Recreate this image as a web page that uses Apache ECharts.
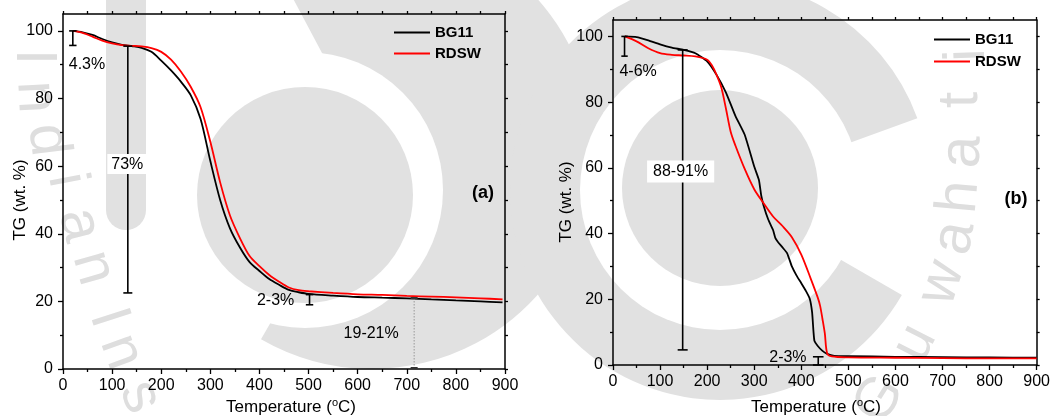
<!DOCTYPE html>
<html>
<head>
<meta charset="utf-8">
<script src="https://cdn.jsdelivr.net/npm/echarts@6/dist/echarts.min.js"></script>
<style>
  html, body { margin: 0; padding: 0; background: #fff; }
  #chart { width: 1053px; height: 416px; }
</style>
</head>
<body>
<div id="chart"></div>
<script>
// ---- tick values ----
const tempMax = 900;
const tgMajor = [0, 20, 40, 60, 80, 100];
const tgMinor = [10, 30, 50, 70, 90];
const tgFrame = [0, 10, 20, 30, 40, 50, 60, 70, 80, 90, 100];

// ---- (a) TG curves ----
const tempA = [20, 40, 60, 80, 100, 120, 140, 160, 180, 200, 220, 240, 260, 280, 300, 320, 340, 360, 380, 400, 420, 440, 460, 480, 500, 550, 600, 650, 700, 750, 800, 850, 895];
const bg11A = [100, 99.6, 98.8, 97.6, 96.6, 95.9, 95.5, 95.0, 93.8, 91.2, 88.3, 85.0, 81.0, 74.0, 61.5, 50.0, 41.6, 36.0, 31.6, 29.0, 26.6, 24.9, 23.4, 22.7, 22.2, 21.7, 21.3, 21.1, 20.9, 20.6, 20.3, 20.0, 19.7];
const rdswA = [100, 99.4, 98.3, 97.1, 96.3, 95.8, 95.6, 95.4, 94.9, 93.8, 91.5, 88.0, 83.5, 77.5, 67.2, 55.2, 45.4, 38.8, 33.4, 30.4, 27.8, 25.8, 24.1, 23.3, 23.0, 22.5, 22.1, 21.9, 21.6, 21.4, 21.2, 20.9, 20.6];

// ---- (b) TG curves ----
const tempB_bg11 = [25, 50, 75, 100, 125, 150, 175, 200, 220, 240, 260, 280, 300, 310, 315, 320, 330, 340, 345, 350, 360, 370, 380, 390, 400, 410, 418, 423, 426, 428, 435, 445, 455, 470, 500, 600, 700, 800, 900];
const bg11B = [100, 99.8, 98.8, 97.6, 96.6, 95.9, 94.9, 92.4, 88.3, 82.9, 75.8, 70.0, 60.4, 56.3, 51.5, 48.5, 44.2, 41.1, 38.6, 37.5, 35.8, 34.0, 30.0, 27.2, 24.9, 22.5, 20.2, 16.0, 10.0, 7.3, 5.8, 4.3, 3.4, 2.8, 2.7, 2.5, 2.4, 2.3, 2.2];
const tempB_rdsw = [25, 50, 75, 100, 125, 150, 175, 200, 210, 220, 230, 240, 250, 260, 280, 300, 320, 340, 360, 380, 400, 420, 435, 440, 445, 450, 455, 465, 500, 600, 700, 800, 900];
const rdswB = [100, 98.5, 96.4, 94.9, 94.4, 94.2, 93.9, 92.9, 91.2, 88.3, 84.5, 78.0, 71.0, 66.8, 59.6, 53.5, 49.2, 45.2, 42.3, 38.9, 33.6, 26.3, 20.5, 18.0, 14.0, 9.6, 3.5, 2.6, 2.3, 2.2, 2.1, 2.0, 2.0];

// ---- mass-loss annotations: [temperature, upper TG, lower TG] ----
const rangesA = [[20, 100, 95.7], [132, 95.5, 22.5], [502, 22, 19]];
const residueA = [[715, 21, 0]];
const rangesB = [[24.5, 100, 94], [148, 95.9, 4.6], [436, 2.5, 0]];

// ---- annotation labels: [temperature, TG, text] ----
const notesA = [[48.8, 90, '4.3%'], [131, 60.6, '73%'], [433, 20.2, '2-3%'], [627.5, 10.6, '19-21%']];
const notesB = [[53.4, 89.2, '4-6%'], [143.7, 58.9, '88-91%'], [371.6, 2.35, '2-3%']];

const seriesNames = ['BG11', 'RDSW'];

// ---------------------------------------------------------------
const FF = '"Liberation Sans", Arial, sans-serif';
const deg = Math.PI / 180;
const zip = (xs, ys) => xs.map((x, i) => [x, ys[i]]);
const boxPad = { '73%': [2, 4, 2, 4], '88-91%': [3, 6, 3, 6] };
const frameLine = { show: true, onZero: false, lineStyle: { color: '#000', width: 1.5 } };
const tickStyle = { color: '#000', width: 1.3 };

const grids = [
  { left: 63, top: 14, width: 442, height: 355 },
  { left: 613, top: 20, width: 425, height: 345 }
];

const xAxes = [], yAxes = [];
grids.forEach((g, gi) => {
  xAxes.push({
    gridIndex: gi, type: 'value', position: 'bottom', min: 0, max: tempMax, interval: 100,
    axisLine: frameLine,
    axisTick: { show: true, length: 5, lineStyle: tickStyle },
    minorTick: { show: true, splitNumber: 2, length: 3, lineStyle: tickStyle },
    axisLabel: { fontFamily: FF, fontSize: 16, color: '#000', margin: 9 },
    splitLine: { show: false }
  });
  xAxes.push({
    gridIndex: gi, type: 'value', position: 'top', min: 0, max: tempMax, interval: 50,
    axisLine: frameLine,
    axisTick: { show: true, length: 3, lineStyle: tickStyle },
    axisLabel: { show: false }, splitLine: { show: false }
  });
  yAxes.push({
    gridIndex: gi, type: 'value', position: 'left', min: 0, max: 105, interval: 20,
    axisLine: frameLine,
    axisTick: { show: true, length: 5, lineStyle: tickStyle, customValues: tgMajor },
    axisLabel: { fontFamily: FF, fontSize: 16, color: '#000', margin: 10, customValues: tgMajor },
    splitLine: { show: false }
  });
  yAxes.push({
    gridIndex: gi, type: 'value', position: 'left', min: 0, max: 105, interval: 10,
    axisLine: { show: false },
    axisTick: { show: true, length: 3, lineStyle: tickStyle, customValues: tgMinor },
    axisLabel: { show: false }, splitLine: { show: false }
  });
  yAxes.push({
    gridIndex: gi, type: 'value', position: 'right', min: 0, max: 105, interval: 10,
    axisLine: frameLine,
    axisTick: { show: true, length: 3, lineStyle: tickStyle, customValues: tgFrame },
    axisLabel: { show: false }, splitLine: { show: false }
  });
});

function curve(gi, name, color, data, smooth) {
  return {
    type: 'line', name, xAxisIndex: 2 * gi, yAxisIndex: 3 * gi, data,
    symbol: 'none', smooth, z: 3,
    lineStyle: { color, width: 1.8 }, itemStyle: { color }
  };
}

function rangeBars(gi, bars, caps) {
  return {
    type: 'custom', xAxisIndex: 2 * gi, yAxisIndex: 3 * gi, data: bars, silent: true, z: 4,
    renderItem(params, api) {
      const x = api.value(0);
      const a = api.coord([x, api.value(1)]);
      const b = api.coord([x, api.value(2)]);
      const w = caps[params.dataIndex];
      const st = { stroke: '#000', lineWidth: 1.6 };
      return {
        type: 'group', children: [
          { type: 'line', shape: { x1: a[0], y1: a[1], x2: b[0], y2: b[1] }, style: st },
          { type: 'line', shape: { x1: a[0] - w, y1: a[1], x2: a[0] + w, y2: a[1] }, style: st },
          { type: 'line', shape: { x1: b[0] - w, y1: b[1], x2: b[0] + w, y2: b[1] }, style: st }
        ]
      };
    }
  };
}

function dropLines(gi, lines) {
  return {
    type: 'custom', xAxisIndex: 2 * gi, yAxisIndex: 3 * gi, data: lines, silent: true, z: 4,
    renderItem(params, api) {
      const x = api.value(0);
      const a = api.coord([x, api.value(1)]);
      const b = api.coord([x, api.value(2)]);
      const cap = { stroke: '#333', lineWidth: 2 };
      return {
        type: 'group', children: [
          { type: 'line', shape: { x1: a[0], y1: a[1], x2: b[0], y2: b[1] }, style: { stroke: '#999', lineWidth: 1, lineDash: [1.5, 1.5] } },
          { type: 'line', shape: { x1: a[0] - 3.5, y1: a[1], x2: a[0] + 3.5, y2: a[1] }, style: cap },
          { type: 'line', shape: { x1: b[0] - 3.5, y1: b[1] - 1, x2: b[0] + 3.5, y2: b[1] - 1 }, style: cap }
        ]
      };
    }
  };
}

function notes(gi, list) {
  return {
    type: 'custom', xAxisIndex: 2 * gi, yAxisIndex: 3 * gi, silent: true, z: 5,
    data: list.map(n => [n[0], n[1]]),
    renderItem(params, api) {
      const p = api.coord([api.value(0), api.value(1)]);
      const txt = list[params.dataIndex][2];
      const pad = boxPad[txt];
      return {
        type: 'text', x: p[0], y: p[1],
        style: {
          text: txt, fontFamily: FF, fontSize: 16, fill: '#000',
          align: 'center', verticalAlign: 'middle',
          backgroundColor: pad ? '#fff' : null, padding: pad || 0
        }
      };
    }
  };
}

// ---- faint institutional watermark behind the plots ----
const WM = '#e1e1e1';
const watermark = [
  { type: 'sector', shape: { cx: 372, cy: 147, r: 222, r0: 0, startAngle: -118 * deg, endAngle: 120 * deg, clockwise: true }, style: { fill: WM } },
  { type: 'sector', shape: { cx: 720, cy: 190, r: 210, r0: 0, startAngle: 30 * deg, endAngle: 340 * deg, clockwise: true }, style: { fill: WM } },
  { type: 'rect', shape: { x: 106, y: -20, width: 40, height: 250, r: 20 }, style: { fill: WM } },
  { type: 'circle', shape: { cx: 305, cy: 190, r: 138 }, style: { fill: '#fff' } },
  { type: 'circle', shape: { cx: 720, cy: 190, r: 140 }, style: { fill: '#fff' } },
  { type: 'circle', shape: { cx: 305, cy: 195, r: 108 }, style: { fill: WM } },
  { type: 'circle', shape: { cx: 720, cy: 188, r: 98 }, style: { fill: WM } }
];
const wmLetters = [
  ['I', 33, 57, -90], ['n', 35, 97, -87], ['d', 47, 140, -83], ['i', 66, 180, -79],
  ['a', 79, 225, -76], ['n', 93, 268, -74], ['I', 108, 318, -72], ['n', 121, 352, -70], ['s', 140, 397, -68],
  ['G', 880, 400, 58], ['u', 915, 343, 63], ['w', 942, 283, 72], ['a', 955, 238, 80],
  ['h', 960, 197, 85], ['a', 963, 152, 88], ['t', 961, 100, 90], ['i', 968, 55, 92]
];
wmLetters.forEach(([ch, x, y, r]) => watermark.push({
  type: 'text', x, y, rotation: r * deg,
  style: { text: ch, fontFamily: FF, fontSize: 58, fill: '#dedede', align: 'center', verticalAlign: 'middle' }
}));
watermark.forEach(el => { el.z = -10; el.silent = true; });

// ---- axis titles and panel tags ----
const tempTitle = (x) => ({
  type: 'text', x, y: 407, z: 50,
  style: {
    text: '{m|Temperature (}{s|o}{m|C)}', align: 'center', verticalAlign: 'middle',
    rich: {
      m: { fontFamily: FF, fontSize: 17, fill: '#000', lineHeight: 20 },
      s: { fontFamily: FF, fontSize: 11, fill: '#000', verticalAlign: 'top', lineHeight: 20 }
    }
  }
});
const tgTitle = (x, y) => ({
  type: 'text', x, y, rotation: Math.PI / 2, z: 50,
  style: { text: 'TG (wt. %)', fontFamily: FF, fontSize: 17, fill: '#000', align: 'center', verticalAlign: 'middle' }
});
const tag = (t, x, y) => ({
  type: 'text', x, y, z: 50,
  style: { text: t, fontFamily: FF, fontSize: 18, fontWeight: 'bold', fill: '#000', align: 'center', verticalAlign: 'middle' }
});

const legendBase = {
  data: seriesNames, orient: 'vertical', padding: 0, itemWidth: 36, itemHeight: 14,
  selectedMode: false,
  itemStyle: { opacity: 0 },
  textStyle: { fontFamily: FF, fontSize: 15, fontWeight: 'bold', color: '#000' }
};

const chart = echarts.init(document.getElementById('chart'), null, { renderer: 'canvas' });
chart.setOption({
  animation: false,
  backgroundColor: '#fff',
  textStyle: { fontFamily: FF },
  grid: grids,
  xAxis: xAxes,
  yAxis: yAxes,
  legend: [
    Object.assign({}, legendBase, { left: 393, top: 25, itemGap: 6 }),
    Object.assign({}, legendBase, { left: 933, top: 32, itemGap: 7 })
  ],
  graphic: watermark.concat([
    tgTitle(20, 200), tgTitle(566, 202),
    tempTitle(291), tempTitle(816),
    tag('(a)', 483, 193), tag('(b)', 1016, 199)
  ]),
  series: [
    curve(0, 'BG11', '#000000', zip(tempA, bg11A), 0.3),
    curve(0, 'RDSW', '#ff0000', zip(tempA, rdswA), 0.3),
    curve(1, 'BG11', '#000000', zip(tempB_bg11, bg11B), 0.15),
    curve(1, 'RDSW', '#ff0000', zip(tempB_rdsw, rdswB), 0.3),
    rangeBars(0, rangesA, [3.7, 4.5, 3.7]),
    dropLines(0, residueA),
    rangeBars(1, rangesB, [3.2, 5, 5.3]),
    notes(0, notesA),
    notes(1, notesB)
  ]
});
</script>
</body>
</html>
